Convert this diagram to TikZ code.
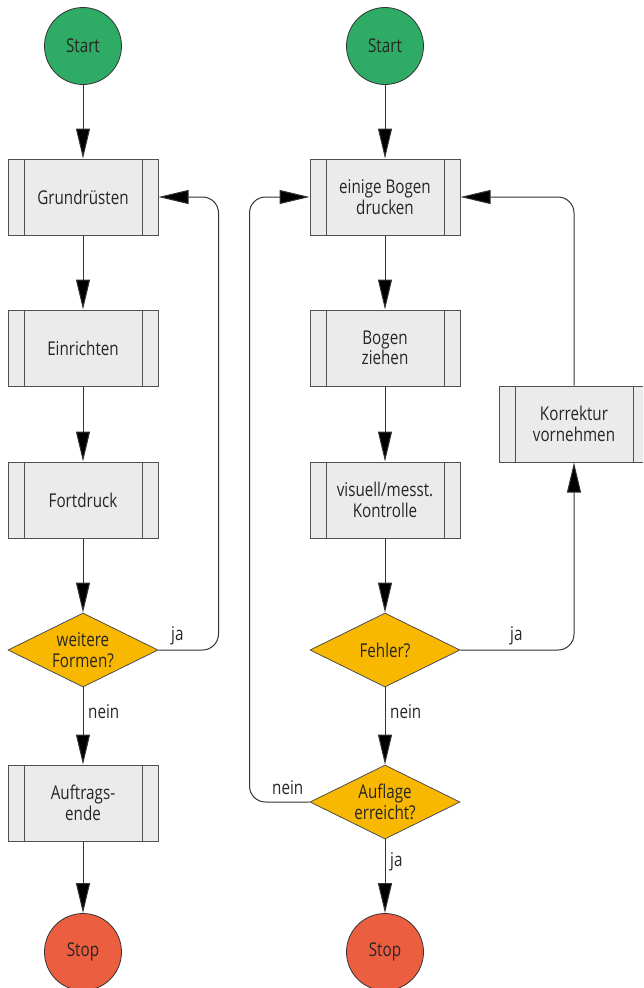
\documentclass[tikz,border=0pt]{standalone}
\usepackage{fontspec}
\setmainfont[FakeStretch=0.8]{Open Sans}
\usetikzlibrary{arrows.meta,shapes.geometric,calc}

\definecolor{startgreen}{HTML}{2EAB64}
\definecolor{stopred}{HTML}{EC5E40}
\definecolor{decisionorange}{HTML}{F9B800}
\definecolor{boxfill}{HTML}{EBEBEB}
\definecolor{boxline}{HTML}{505050}
\definecolor{linkline}{HTML}{333333}

\tikzset{
  txt/.style={font=\fontsize{19}{20.5}\selectfont, text=black!85},
  terminal/.style={circle, draw=black!80, line width=0.8pt, minimum size=77pt,
    inner sep=0pt, txt},
  startnode/.style={terminal, fill=startgreen},
  stopnode/.style={terminal, fill=stopred},
  procbox/.style={rectangle, draw=boxline, line width=1pt, fill=boxfill,
    minimum width=150pt, minimum height=76pt, inner sep=0pt, align=center, txt,
    path picture={
      \draw[boxline, line width=1pt]
        ([xshift=16pt]path picture bounding box.north west) --
        ([xshift=16pt]path picture bounding box.south west)
        ([xshift=-16pt]path picture bounding box.north east) --
        ([xshift=-16pt]path picture bounding box.south east);
    }},
  decision/.style={diamond, draw=black!70, line width=0.8pt, fill=decisionorange,
    minimum width=150pt, minimum height=74pt, inner sep=0pt},
  dtext/.style={align=center, txt},
  arr/.style={draw=linkline, line width=1pt,
    -{Triangle[length=30pt, width=14pt, fill=black]}},
  lbl/.style={txt, inner sep=0pt},
}

\begin{document}
\begin{tikzpicture}[x=1pt, y=-1pt]
  \useasboundingbox (0,0) rectangle (643,988);
  \clip (0,0) rectangle (643,988);

  % left column
  \node[startnode] (s1) at (83,46) {Start};
  \node[procbox] (grund) at (83,197) {Grundrüsten};
  \node[procbox] (einr) at (83,348) {Einrichten};
  \node[procbox] (fort) at (83,500) {Fortdruck};
  \node[decision] (weit) at (83,650) {};
  \node[dtext] (weitT) at (weit.center) {weitere\\Formen?};
  \node[procbox] (auft) at (83,803) {Auftrags-\\ende};
  \node[stopnode] (e1) at (83,952) {Stop};

  \draw[arr] (s1) -- (grund);
  \draw[arr] (grund) -- (einr);
  \draw[arr] (einr) -- (fort);
  \draw[arr] (fort) -- (weit.north);
  \draw[arr] (weit.south) -- (auft);
  \draw[arr] (auft) -- (e1);
  \draw[arr, rounded corners=16pt] (weit.east) -| ([xshift=60pt]grund.east) -- (grund.east);
  \node[lbl, anchor=west] (nein1) at (88,712) {nein};
  \node[lbl, anchor=west] (ja1) at (171,636) {ja};

  % right column
  \node[startnode] (s2) at (385,46) {Start};
  \node[procbox] (druck) at (385,197) {einige Bogen\\drucken};
  \node[procbox] (zieh) at (385,348) {Bogen\\ziehen};
  \node[procbox] (kontr) at (385,500) {visuell/messt.\\Kontrolle};
  \node[decision] (fehl) at (385,650) {};
  \node[dtext] (fehlT) at (fehl.center) {Fehler?};
  \node[decision] (aufl) at (385,802) {};
  \node[dtext] (auflT) at (aufl.center) {Auflage\\erreicht?};
  \node[stopnode] (e2) at (385,952) {Stop};
  \node[procbox] (korr) at (574,424) {Korrektur\\vornehmen};

  \draw[arr] (s2) -- (druck);
  \draw[arr] (druck) -- (zieh);
  \draw[arr] (zieh) -- (kontr);
  \draw[arr] (kontr) -- (fehl.north);
  \draw[arr] (fehl.south) -- (aufl.north);
  \draw[arr] (aufl.south) -- (e2);
  \draw[arr, rounded corners=16pt] (fehl.east) -| (korr.south);
  \draw[arr, rounded corners=16pt] (korr.north) |- (druck.east);
  \draw[arr, rounded corners=16pt] (aufl.west) -| ([xshift=-60pt]druck.west) -- (druck.west);
  \node[lbl, anchor=west] (nein2) at (390,712) {nein};
  \node[lbl, anchor=west] (ja2) at (510,636) {ja};
  \node[lbl, anchor=west] (nein3) at (272,788) {nein};
  \node[lbl, anchor=west] (ja3) at (390,862) {ja};
\end{tikzpicture}
\end{document}
